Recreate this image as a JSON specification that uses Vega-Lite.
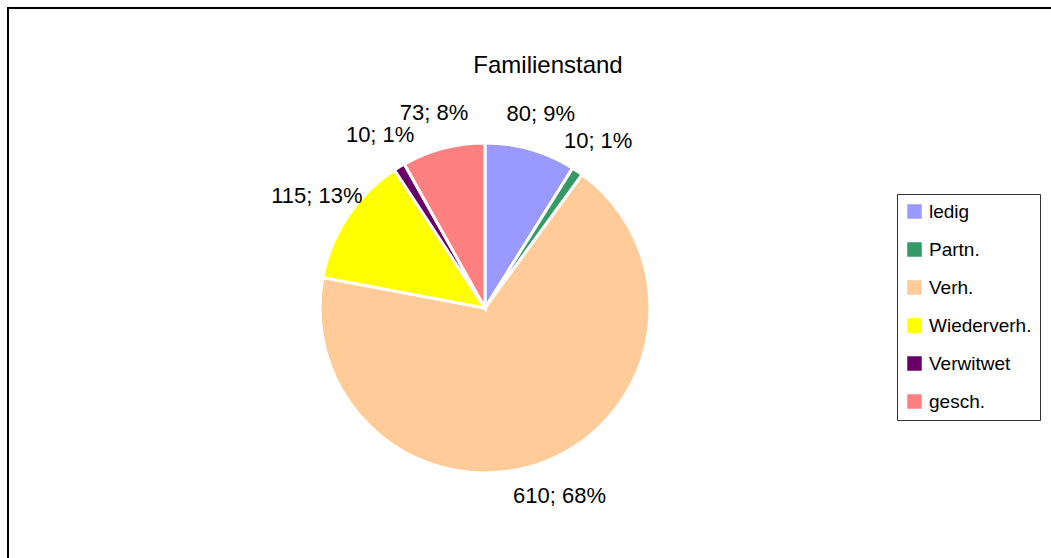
{
  "$schema": "https://vega.github.io/schema/vega-lite/v6.json",
  "width": 1050,
  "height": 560,
  "padding": {"left": 8, "top": 8, "right": 0, "bottom": 0},
  "autosize": {"type": "none"},
  "background": "white",
  "view": {"stroke": "black", "strokeWidth": 2, "fill": "white"},
  "config": {
    "view": {"stroke": "black", "strokeWidth": 2},
    "font": "Liberation Sans"
  },
  "title": {
    "text": "Familienstand",
    "fontSize": 24,
    "fontWeight": "normal",
    "color": "black",
    "font": "Liberation Sans",
    "offset": -70,
    "dx": 15
  },
  "data": {
    "values": [
      {"Kategorie": "ledig", "Anzahl": 80, "Beschriftung": "80; 9%", "Reihenfolge": 1},
      {"Kategorie": "Partn.", "Anzahl": 10, "Beschriftung": "10; 1%", "Reihenfolge": 2},
      {"Kategorie": "Verh.", "Anzahl": 610, "Beschriftung": "610; 68%", "Reihenfolge": 3},
      {"Kategorie": "Wiederverh.", "Anzahl": 115, "Beschriftung": "115; 13%", "Reihenfolge": 4},
      {"Kategorie": "Verwitwet", "Anzahl": 10, "Beschriftung": "10; 1%", "Reihenfolge": 5},
      {"Kategorie": "gesch.", "Anzahl": 73, "Beschriftung": "73; 8%", "Reihenfolge": 6}
    ]
  },
  "encoding": {
    "theta": {"field": "Anzahl", "type": "quantitative", "stack": true},
    "order": {"field": "Reihenfolge", "type": "quantitative"}
  },
  "layer": [
    {
      "mark": {"type": "arc", "outerRadius": 165, "stroke": "white", "strokeWidth": 3, "xOffset": -48, "yOffset": 20},
      "encoding": {
        "color": {
          "field": "Kategorie",
          "type": "nominal",
          "sort": ["ledig", "Partn.", "Verh.", "Wiederverh.", "Verwitwet", "gesch."],
          "scale": {
            "domain": ["ledig", "Partn.", "Verh.", "Wiederverh.", "Verwitwet", "gesch."],
            "range": ["#9999FF", "#339966", "#FFCC99", "#FFFF00", "#660066", "#FF8080"]
          },
          "legend": {
            "title": null,
            "orient": "none",
            "legendX": 889,
            "legendY": 186,
            "strokeColor": "#333333",
            "padding": 8,
            "symbolType": "square",
            "symbolSize": 210,
            "symbolStrokeWidth": 0,
            "labelFontSize": 19,
            "labelFont": "Liberation Sans",
            "labelColor": "black",
            "rowPadding": 18,
            "labelOffset": 5
          }
        }
      }
    },
    {
      "mark": {"type": "text", "radius": 202, "fontSize": 22, "font": "Liberation Sans", "color": "black", "xOffset": -48, "yOffset": 20},
      "encoding": {
        "text": {"field": "Beschriftung", "type": "nominal"}
      }
    }
  ]
}
